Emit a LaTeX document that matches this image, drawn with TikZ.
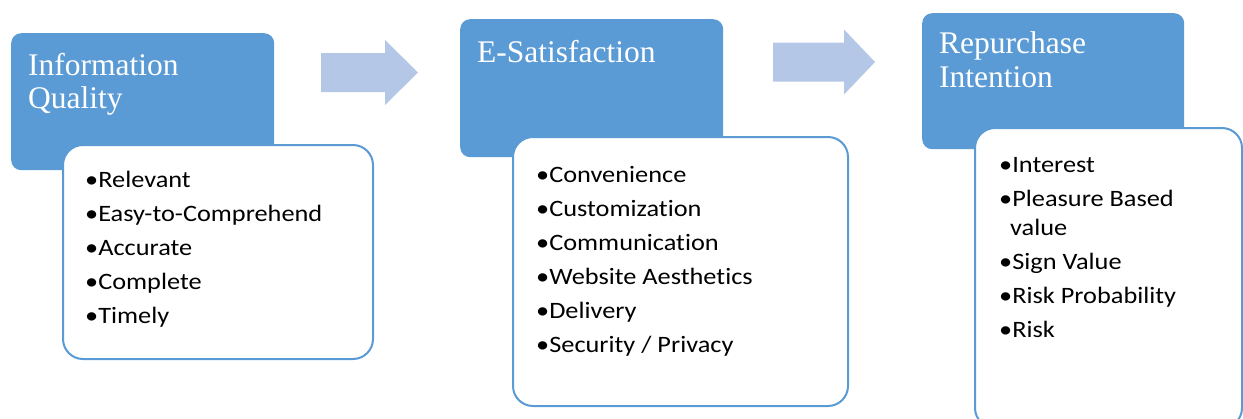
\documentclass[tikz,border=0pt]{standalone}
\usepackage{fontspec}
\setmainfont{Liberation Serif}
\newfontfamily\bodyfont[FakeStretch=1.12,RawFeature=-liga]{Carlito}
\usetikzlibrary{positioning}

\definecolor{headblue}{HTML}{5B9BD5}
\definecolor{arrowblue}{HTML}{B4C7E7}

\begin{document}
\begin{tikzpicture}[x=1pt,y=-1pt,
  headbox/.style={fill=headblue,rounded corners=10pt,inner sep=0pt,anchor=north west},
  listbox/.style={draw=headblue,line width=2pt,fill=white,rounded corners=20pt,inner sep=0pt,anchor=north west},
  title/.style={text=white,inner sep=0pt,anchor=base west,font=\fontsize{31.5}{33}\selectfont},
  item/.style={inner sep=0pt,anchor=base west,font=\bodyfont\fontsize{23.5}{28}\selectfont}]
\useasboundingbox (0,0) rectangle (1243,418);

% block arrows between the stages
\foreach \x/\y/\s/\h in {321/72.5/64/97, 773/62/71/102} {
  \fill[arrowblue] (\x,\y-19.5) -- (\x+\s,\y-19.5) -- (\x+\s,\y-32.5) -- (\x+\h,\y)
    -- (\x+\s,\y+32.5) -- (\x+\s,\y+19.5) -- (\x,\y+19.5) -- cycle;
}

% stage 1
\node[headbox,minimum width=263pt,minimum height=137pt] (iq) at (11,33) {};
\node[listbox,minimum width=310pt,minimum height=214pt] (iqlist) at (62,144) {};
\node[title] (iqtitle1) at (28,75) {Information};
\node[title] (iqtitle2) at (28,108) {Quality};
\foreach \t [count=\i] in {Relevant,Easy-to-Comprehend,Accurate,Complete,Timely}
  \node[item] (iq-\i) at (85,187+34*\i-34) {•\t};

% stage 2
\node[headbox,minimum width=263pt,minimum height=138pt] (es) at (460,19) {};
\node[listbox,minimum width=335pt,minimum height=269pt] (eslist) at (512,136) {};
\node[title] (estitle) at (477,62) {E-Satisfaction};
\foreach \t [count=\i] in {Convenience,Customization,Communication,Website Aesthetics,Delivery,Security / Privacy}
  \node[item] (es-\i) at (536,182+34*\i-34) {•\t};

% stage 3
\node[headbox,minimum width=262pt,minimum height=136pt] (ri) at (922,13) {};
\node[listbox,minimum width=267pt,minimum height=300pt] (rilist) at (974,127) {};
\node[title] (rititle1) at (939,53) {Repurchase};
\node[title] (rititle2) at (939,87) {Intention};
\foreach \t/\y [count=\i] in {Interest/172,Pleasure Based/206,Sign Value/269,Risk Probability/303,Risk/337}
  \node[item] (ri-\i) at (999,\y) {•\t};
\node[item] (ri-2b) at (1010,235) {value};
\end{tikzpicture}
\end{document}
